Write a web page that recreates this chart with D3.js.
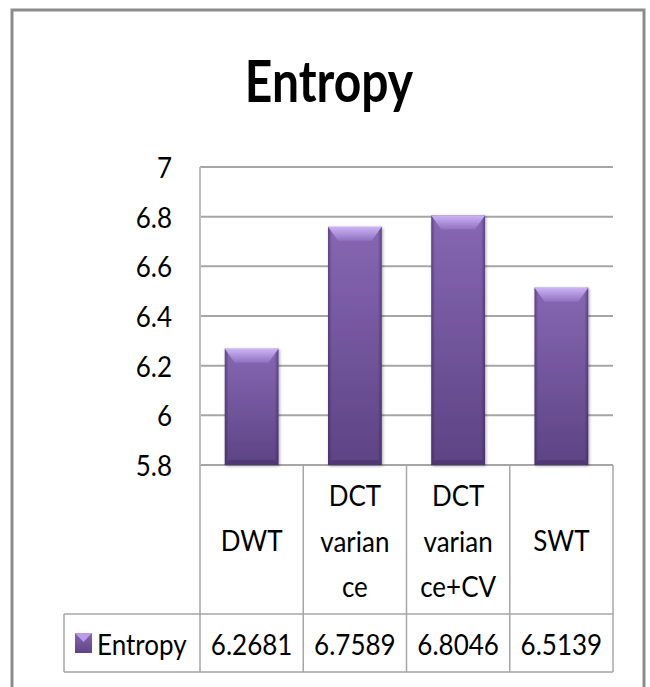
<!DOCTYPE html>
<meta charset="utf-8">
<html>
<style>
body { margin: 0; background: #fff; }
text { font-family: Lato, "Open Sans", sans-serif; fill: #000; }
.grid line { stroke: #a6a6a6; stroke-width: 2px; }
.tbl line { stroke: #a6a6a6; stroke-width: 1.5px; }
</style>
<svg width="650" height="687"></svg>
<script src="https://d3js.org/d3.v7.min.js"></script>
<script>
// chart data
var categories = ["DWT", "DCT variance", "DCT variance+CV", "SWT"];
var catLines = [["DWT"], ["DCT", "varian", "ce"], ["DCT", "varian", "ce+CV"], ["SWT"]];
var values = [6.2681, 6.7589, 6.8046, 6.5139];
var valueLabels = ["6.2681", "6.7589", "6.8046", "6.5139"];
var seriesName = "Entropy";
var yTicks = [5.8, 6, 6.2, 6.4, 6.6, 6.8, 7];

var svg = d3.select("svg");

// frame
svg.append("rect")
    .attr("x", 12).attr("y", 10)
    .attr("width", 632).attr("height", 700)
    .attr("fill", "none")
    .attr("stroke", "#8c8c8c")
    .attr("stroke-width", 3);

var x = d3.scaleBand()
    .domain(categories)
    .range([200, 613])
    .paddingInner(0.48)
    .paddingOuter(0.24);
var step = x.step();
var y = d3.scaleLinear().domain([5.8, 7]).range([465, 167]);

// text helper, stretched a bit vertically like the original
function label(g, str, tx, ty, size, anchor, weight, sy) {
  return g.append("text")
      .attr("transform", "translate(" + tx + "," + ty + ") scale(1," + (sy || 1.12) + ")")
      .attr("font-size", size)
      .attr("font-weight", weight || "normal")
      .attr("text-anchor", anchor || "middle")
      .text(str);
}

// gradients
var defs = svg.append("defs");
var face = defs.append("linearGradient").attr("id", "face")
    .attr("x1", 0).attr("y1", 0).attr("x2", 0).attr("y2", 1);
face.append("stop").attr("offset", "0%").attr("stop-color", "#8667b3");
face.append("stop").attr("offset", "100%").attr("stop-color", "#5d4384");
var edge = defs.append("linearGradient").attr("id", "edge")
    .attr("x1", 0).attr("y1", 0).attr("x2", 1).attr("y2", 0);
edge.append("stop").attr("offset", "0%").attr("stop-color", "#2a1745").attr("stop-opacity", 0.45);
edge.append("stop").attr("offset", "7%").attr("stop-color", "#2a1745").attr("stop-opacity", 0);
edge.append("stop").attr("offset", "93%").attr("stop-color", "#2a1745").attr("stop-opacity", 0);
edge.append("stop").attr("offset", "100%").attr("stop-color", "#2a1745").attr("stop-opacity", 0.45);
var bevel = defs.append("linearGradient").attr("id", "bevel")
    .attr("x1", 0).attr("y1", 0).attr("x2", 0).attr("y2", 1);
bevel.append("stop").attr("offset", "0%").attr("stop-color", "#cdb4f4");
bevel.append("stop").attr("offset", "100%").attr("stop-color", "#8f70c2");
var shadow = defs.append("filter").attr("id", "shadow")
    .attr("x", "-20%").attr("y", "-10%").attr("width", "140%").attr("height", "120%");
shadow.append("feDropShadow")
    .attr("dx", 1).attr("dy", 1).attr("stdDeviation", 1.5)
    .attr("flood-color", "#000").attr("flood-opacity", 0.35);

// gridlines
svg.append("g").attr("class", "grid")
  .selectAll("line")
  .data(yTicks)
  .enter().append("line")
    .attr("x1", 200).attr("x2", 613)
    .attr("y1", function(d) { return y(d); })
    .attr("y2", function(d) { return y(d); });
svg.append("line")
    .attr("x1", 200).attr("x2", 200)
    .attr("y1", y(7)).attr("y2", y(5.8))
    .attr("stroke", "#bdbdbd").attr("stroke-width", 2);

// y tick labels
var yl = svg.append("g");
yTicks.forEach(function(t) {
  label(yl, d3.format("")(t), 172, y(t) + 11, 26, "end");
});

// bars
var bars = svg.append("g").selectAll("g")
    .data(values)
    .enter().append("g")
    .attr("filter", "url(#shadow)");
bars.each(function(d, i) {
  var g = d3.select(this),
      bx = x(categories[i]), bw = x.bandwidth(),
      by = y(d), bh = y(5.8) - y(d);
  g.append("rect").attr("x", bx).attr("y", by).attr("width", bw).attr("height", bh).attr("fill", "url(#face)");
  g.append("rect").attr("x", bx).attr("y", by).attr("width", bw).attr("height", bh).attr("fill", "url(#edge)");
  g.append("polygon")
      .attr("points", [[bx, by], [bx + bw, by], [bx + bw - 10, by + 14], [bx + 10, by + 14]].join(" "))
      .attr("fill", "url(#bevel)");
  g.append("polygon")
      .attr("points", [[bx, by + bh], [bx + bw, by + bh], [bx + bw - 4, by + bh - 5], [bx + 4, by + bh - 5]].join(" "))
      .attr("fill", "#4d3670").attr("opacity", 0.8);
});

// data table
var tbl = svg.append("g").attr("class", "tbl");
var edges = [200].concat(categories.map(function(c) { return x(c) - x.paddingInner() * step / 2 + step; }));
edges[edges.length - 1] = 613;
edges.forEach(function(ex) {
  tbl.append("line").attr("x1", ex).attr("x2", ex).attr("y1", 465).attr("y2", 672);
});
tbl.append("line").attr("x1", 64).attr("x2", 64).attr("y1", 614).attr("y2", 672);
tbl.append("line").attr("x1", 64).attr("x2", 613).attr("y1", 614).attr("y2", 614);
tbl.append("line").attr("x1", 64).attr("x2", 613).attr("y1", 672).attr("y2", 672);

var tt = svg.append("g");
catLines.forEach(function(lines, i) {
  var cx = x(categories[i]) + x.bandwidth() / 2;
  if (lines.length === 1) {
    label(tt, lines[0], cx, 551, 26);
  } else {
    lines.forEach(function(s, j) { label(tt, s, cx, 506 + j * 45.5, 26); });
  }
  label(tt, valueLabels[i], cx, 655, 26);
});

// legend key
svg.append("rect").attr("x", 75).attr("y", 633).attr("width", 17).attr("height", 20).attr("fill", "url(#face)");
svg.append("polygon").attr("points", "75,633 92,633 83.5,642").attr("fill", "#b99ce8");
label(tt, seriesName, 97, 655, 26, "start");

// title
label(svg, "Entropy", 329, 102, 48, "middle", "bold", 1.2);
</script>
</html>
